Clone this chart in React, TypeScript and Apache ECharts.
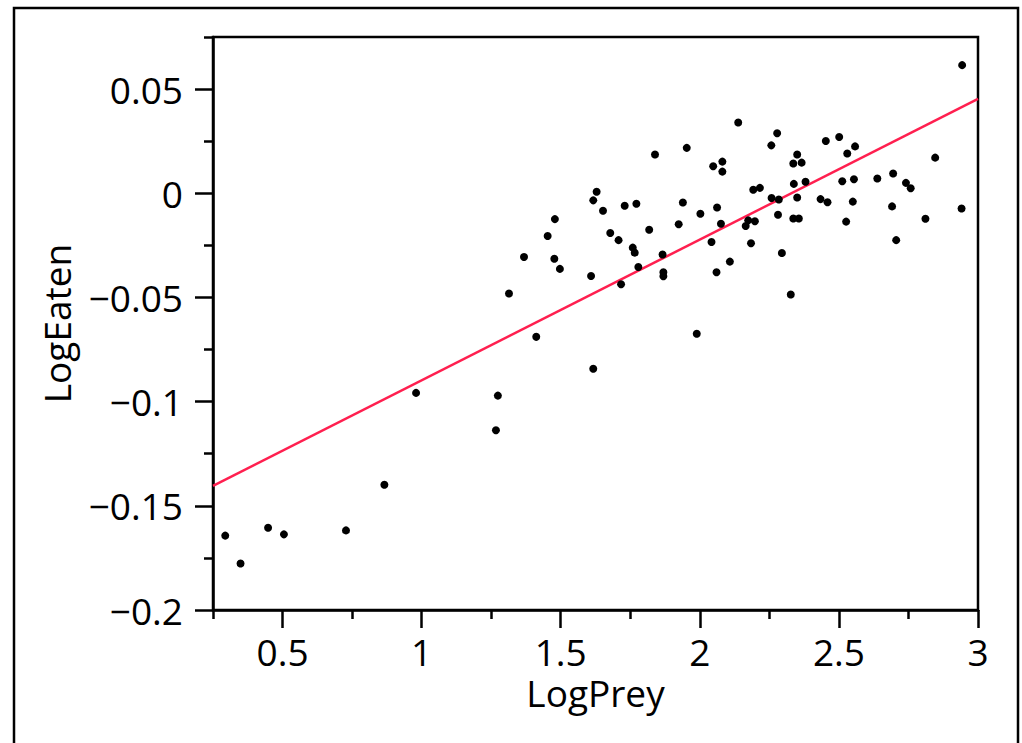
import React, { useEffect, useRef } from "react";
import * as echarts from "echarts";

const logPrey = [
  0.294, 0.349, 0.448, 0.505, 0.728, 0.866, 0.98, 1.274, 1.267, 1.314,
  1.412, 1.617, 1.989, 1.717, 1.953, 1.839, 2.048, 2.081, 2.081, 1.629,
  1.617, 1.652, 1.73, 1.772, 1.939, 2.002, 2.062, 2.076, 1.479, 1.453,
  1.678, 1.708, 1.818, 1.924, 2.042, 1.368, 1.477, 1.497, 1.759, 1.766,
  1.779, 1.866, 1.609, 1.869, 1.869, 2.06, 2.108, 2.138, 2.278, 2.257,
  2.453, 2.501, 2.558, 2.53, 2.35, 2.336, 2.366, 2.846, 2.512, 2.554,
  2.638, 2.695, 2.741, 2.758, 2.338, 2.38, 2.192, 2.216, 2.258, 2.284,
  2.35, 2.434, 2.459, 2.55, 2.691, 2.941, 2.174, 2.165, 2.198, 2.281,
  2.336, 2.356, 2.526, 2.811, 2.184, 2.295, 2.706, 2.327, 2.943,
];
const logEaten = [
  -0.1643, -0.1777, -0.1605, -0.1637, -0.1618, -0.1399, -0.0958, -0.0971, -0.1137, -0.0481,
  -0.0689, -0.0842, -0.0674, -0.0437, 0.0218, 0.0186, 0.013, 0.0152, 0.0104, 0.0007,
  -0.0034, -0.0084, -0.006, -0.005, -0.0044, -0.0098, -0.0068, -0.0146, -0.0124, -0.0205,
  -0.0191, -0.0225, -0.0175, -0.0149, -0.0234, -0.0306, -0.0314, -0.0363, -0.0261, -0.0285,
  -0.0354, -0.0294, -0.0397, -0.0379, -0.0398, -0.0379, -0.0328, 0.034, 0.0288, 0.023,
  0.0251, 0.027, 0.0225, 0.0191, 0.0186, 0.0143, 0.0147, 0.0171, 0.0058, 0.0067,
  0.0071, 0.0095, 0.005, 0.0024, 0.0045, 0.0055, 0.0017, 0.0026, -0.0023, -0.003,
  -0.002, -0.0028, -0.0043, -0.004, -0.0063, -0.0073, -0.013, -0.0157, -0.0134, -0.0103,
  -0.0121, -0.0121, -0.0136, -0.0122, -0.024, -0.0287, -0.0225, -0.0486, 0.0615,
];

// Fitted line end points
const fitX = [0.25, 3];
const fitY = [-0.1404, 0.0453];

// Axis ticks
const xTickValues = [0.5, 1, 1.5, 2, 2.5, 3];
const xTickLabels = ["0.5", "1", "1.5", "2", "2.5", "3"];
const xMinorValues = [0.25, 0.75, 1.25, 1.75, 2.25, 2.75];
const yTickValues = [-0.2, -0.15, -0.1, -0.05, 0, 0.05];
const yTickLabels = ["\u22120.2", "\u22120.15", "\u22120.1", "\u22120.05", "0", "0.05"];
const yMinorValues = [-0.175, -0.125, -0.075, -0.025, 0.025, 0.075];

const FONT = "Open Sans";
const FS = 37;

export default function App() {
  const ref = useRef<HTMLDivElement>(null);
  useEffect(() => {
    if (!ref.current) return;
    const chart = echarts.init(ref.current, null, { renderer: "svg" });
    const labelOf = (vals: number[], labels: string[]) => (v: number) => {
      const i = vals.findIndex((t) => Math.abs(t - v) < 1e-9);
      return i >= 0 ? labels[i] : "";
    };
    const xMin = 0.25, xMax = 3, yMin = -0.2, yMax = 0.075;
    chart.setOption({
      animation: false,
      backgroundColor: "#fff",
      grid: {
        left: 213, right: 44, top: 37, bottom: 133,
        show: true, borderColor: "#000", borderWidth: 2.5, backgroundColor: "transparent",
      },
      graphic: [
        {
          type: "rect",
          shape: { x: 14, y: 8, width: 1004, height: 800 },
          style: { fill: "none", stroke: "#000", lineWidth: 2.5 },
          silent: true,
        },
      ],
      xAxis: [
        {
          type: "value", min: xMin, max: xMax, position: "bottom",
          name: "LogPrey", nameLocation: "middle", nameGap: 67,
          nameTextStyle: { fontFamily: FONT, fontSize: FS, color: "#000", lineHeight: 30 },
          axisLine: { show: true, onZero: false, lineStyle: { color: "#000", width: 2.5 } },
          axisTick: { show: true, length: 18, lineStyle: { color: "#000", width: 2.5 }, customValues: xTickValues },
          axisLabel: {
            customValues: xTickValues, margin: 26, lineHeight: 30,
            formatter: labelOf(xTickValues, xTickLabels),
            fontFamily: FONT, fontSize: FS, color: "#000",
          },
          splitLine: { show: false },
        },
        {
          type: "value", min: xMin, max: xMax, position: "bottom",
          axisLine: { show: false, onZero: false },
          axisTick: { show: true, length: 9, lineStyle: { color: "#000", width: 2.5 }, customValues: xMinorValues },
          axisLabel: { show: false },
          splitLine: { show: false },
        },
      ],
      yAxis: [
        {
          type: "value", min: yMin, max: yMax, position: "left",
          name: "LogEaten", nameLocation: "middle", nameGap: 138,
          nameTextStyle: { fontFamily: FONT, fontSize: FS, color: "#000" },
          axisLine: { show: true, onZero: false, lineStyle: { color: "#000", width: 2.5 } },
          axisTick: { show: true, length: 18, lineStyle: { color: "#000", width: 2.5 }, customValues: yTickValues },
          axisLabel: {
            customValues: yTickValues, margin: 30,
            formatter: labelOf(yTickValues, yTickLabels),
            fontFamily: FONT, fontSize: FS, color: "#000",
          },
          splitLine: { show: false },
        },
        {
          type: "value", min: yMin, max: yMax, position: "left",
          axisLine: { show: false, onZero: false },
          axisTick: { show: true, length: 9, lineStyle: { color: "#000", width: 2.5 }, customValues: yMinorValues },
          axisLabel: { show: false },
          splitLine: { show: false },
        },
      ],
      series: [
        {
          type: "line",
          data: fitX.map((x, i) => [x, fitY[i]]),
          showSymbol: false, symbol: "none",
          lineStyle: { color: "#ff1f4f", width: 2.5 },
          silent: true, z: 2,
        },
        {
          type: "scatter",
          data: logPrey.map((x, i) => [x, logEaten[i]]),
          symbol: "circle", symbolSize: 8,
          itemStyle: { color: "#000", opacity: 1 },
          z: 3,
        },
      ],
    });
    return () => chart.dispose();
  }, []);
  return (
    <div
      ref={ref}
      style={{ position: "fixed", left: 0, top: 0, width: 1022, height: 743, background: "#fff" }}
    />
  );
}
